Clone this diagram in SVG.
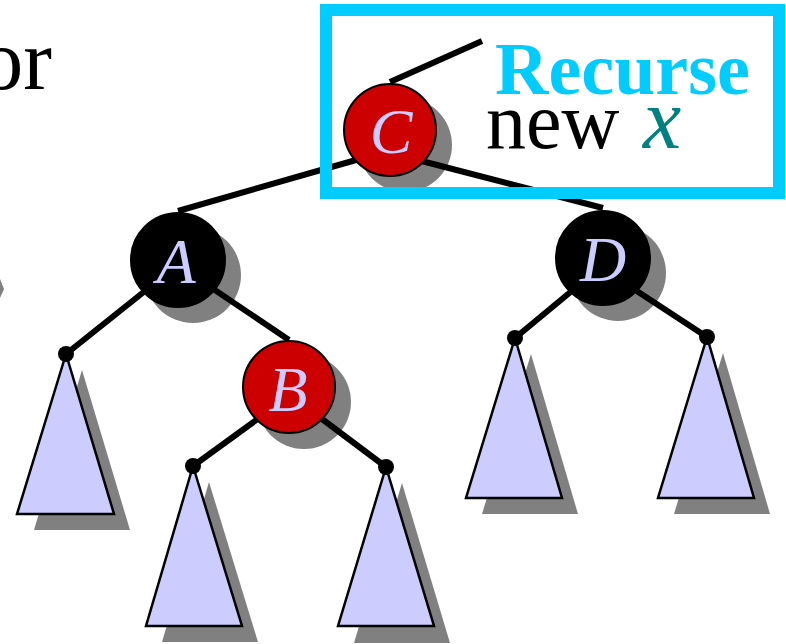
<svg xmlns="http://www.w3.org/2000/svg" width="786" height="644" viewBox="0 0 786 644">
<style>
.edge{stroke:#000;stroke-width:6;fill:none}
.shadow{fill:#808080}
.red{fill:#CC0000;stroke:#000;stroke-width:2}
.black{fill:#000;stroke:#000;stroke-width:2}
.tri{fill:#CCCCFF;stroke:#000;stroke-width:2.5;stroke-linejoin:miter}
.dot{fill:#000}
.lbl{font-family:"Liberation Serif","Times New Roman",serif;font-style:italic;font-size:64px;fill:#CCCCFF;text-anchor:middle}
.txt{font-family:"Liberation Serif","Times New Roman",serif}
</style>
<rect width="786" height="644" fill="#fff"/>
<text class="txt" x="52" y="89" font-size="86" text-anchor="end" fill="#000">or</text>
<polygon class="shadow" points="0,279 4,289 0,298"/>
<g id="shadows">
<circle class="shadow" cx="405" cy="145" r="47"/>
<circle class="shadow" cx="193" cy="275" r="48"/>
<circle class="shadow" cx="304" cy="402" r="47"/>
<circle class="shadow" cx="618" cy="273" r="48"/>
</g>
<g id="connectors">
<line class="edge" x1="390" y1="82" x2="482" y2="41"/>
<line class="edge" x1="178" y1="211" x2="370" y2="156"/>
<line class="edge" x1="410" y1="158" x2="603" y2="208"/>
<line class="edge" x1="160" y1="279" x2="66" y2="354"/>
<line class="edge" x1="200" y1="280" x2="289" y2="340"/>
<line class="edge" x1="270" y1="410" x2="193" y2="466"/>
<line class="edge" x1="310" y1="410" x2="386" y2="467"/>
<line class="edge" x1="585" y1="280" x2="515" y2="338"/>
<line class="edge" x1="620" y1="280" x2="707" y2="337"/>
</g>
<g id="subtree-A-left">
<polygon class="shadow" points="82,370 34,530 130,530"/>
<polygon class="tri" points="66,354 17,514 114,514"/>
<circle class="dot" cx="66" cy="354" r="8"/>
</g>
<g id="subtree-B-left">
<polygon class="shadow" points="209,482 162,642 258,642"/>
<polygon class="tri" points="193,466 146,626 242,626"/>
<circle class="dot" cx="193" cy="466" r="8"/>
</g>
<g id="subtree-B-right">
<polygon class="shadow" points="402,483 354,643 450,643"/>
<polygon class="tri" points="386,467 338,626 434,626"/>
<circle class="dot" cx="386" cy="467" r="8"/>
</g>
<g id="subtree-D-left">
<polygon class="shadow" points="531,354 482,514 578,514"/>
<polygon class="tri" points="515,338 466,498 562,498"/>
<circle class="dot" cx="515" cy="338" r="8"/>
</g>
<g id="subtree-D-right">
<polygon class="shadow" points="723,353 674,514 770,514"/>
<polygon class="tri" points="707,337 658,498 754,498"/>
<circle class="dot" cx="707" cy="337" r="8"/>
</g>
<g id="node-A">
<circle class="black" cx="178" cy="260" r="47"/>
<text class="lbl" x="176" y="283">A</text>
</g>
<g id="node-B">
<circle class="red" cx="289" cy="387" r="46"/>
<text class="lbl" x="288" y="411">B</text>
</g>
<g id="node-D">
<circle class="black" cx="603" cy="258" r="47"/>
<text class="lbl" x="603" y="281">D</text>
</g>
<g id="node-C">
<circle class="red" cx="390" cy="130" r="46"/>
<text class="lbl" x="391" y="153">C</text>
</g>
<g id="recurse-box">
<rect x="326" y="10" width="453" height="183" fill="none" stroke="#00CCFF" stroke-width="12"/>
<text class="txt" x="495" y="94" font-size="74" font-weight="bold" fill="#00CCFF">Recurse</text>
<text class="txt" x="486" y="148" font-size="80" fill="#000">new</text>
<text class="txt" x="643" y="148" font-size="86" font-style="italic" fill="#008080">x</text>
</g>
</svg>
